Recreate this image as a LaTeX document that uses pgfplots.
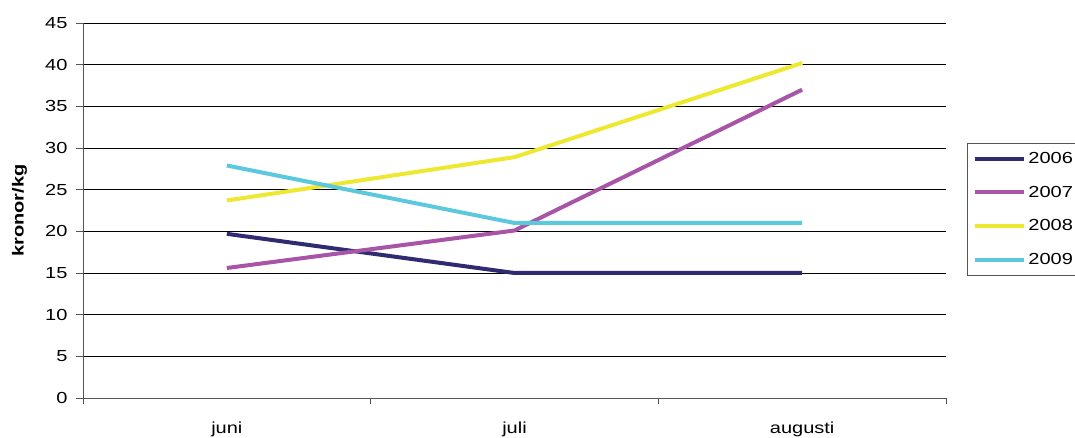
\documentclass[border=0pt]{standalone}
\usepackage{fontspec}
\setmainfont[FakeStretch=1.25]{Liberation Sans}
\usepackage{pgfplots}
\pgfplotsset{compat=1.18}
\definecolor{c06}{HTML}{2E2B70}
\definecolor{c07}{HTML}{A855A8}
\definecolor{c08}{HTML}{EEE830}
\definecolor{c09}{HTML}{5CC8DC}
\definecolor{axgray}{HTML}{555555}
\begin{document}
\begin{tikzpicture}
\begin{axis}[
  scale only axis, width=863pt, height=375pt,
  xmin=0, xmax=3, ymin=0, ymax=45,
  ytick={0,5,...,45},
  xtick={0.5,1.5,2.5}, xticklabels={juni,juli,augusti},
  major x tick style={draw=none},
  minor xtick={0,1,2,3},
  axis lines=left, axis line style={-, axgray, line width=0.8pt},
  ymajorgrids, grid style={black, line width=0.6pt},
  tick align=outside,
  major tick length=7pt, minor tick length=6pt,
  tick style={axgray, line width=0.8pt},
  font=\fontsize{16}{19}\selectfont,
  /pgf/number format/assume math mode=true,
  yticklabel style={xshift=-5pt},
  xticklabel style={yshift=-13pt},
  every axis y label/.style={at={(axis description cs:0,0.5)}, xshift=-63.5pt, rotate=90, anchor=center},
  ylabel={\bfseries kronor/kg},
  legend style={at={(axis description cs:1.0243,0.68)}, anchor=north west, draw=axgray, line width=0.8pt,
    font=\fontsize{16}{19}\selectfont, row sep=17pt, inner xsep=6pt, inner ysep=7pt},
  legend cell align=left,
  legend image code/.code={\draw[#1] (0pt,0pt) -- (49pt,0pt);},
  every axis plot/.append style={line width=4pt},
]
\addplot[c06] coordinates {(0.5,19.7) (1.5,15.0) (2.5,15.0)};
\addplot[c07] coordinates {(0.5,15.6) (1.5,20.1) (2.5,37.0)};
\addplot[c08] coordinates {(0.5,23.7) (1.5,28.9) (2.5,40.2)};
\addplot[c09] coordinates {(0.5,27.9) (1.5,21.0) (2.5,21.0)};
\legend{2006,2007,2008,2009}
\end{axis}
\pgfresetboundingbox
\path[use as bounding box] (-83pt,-40pt) rectangle (992pt,398pt);
\end{tikzpicture}
\end{document}
